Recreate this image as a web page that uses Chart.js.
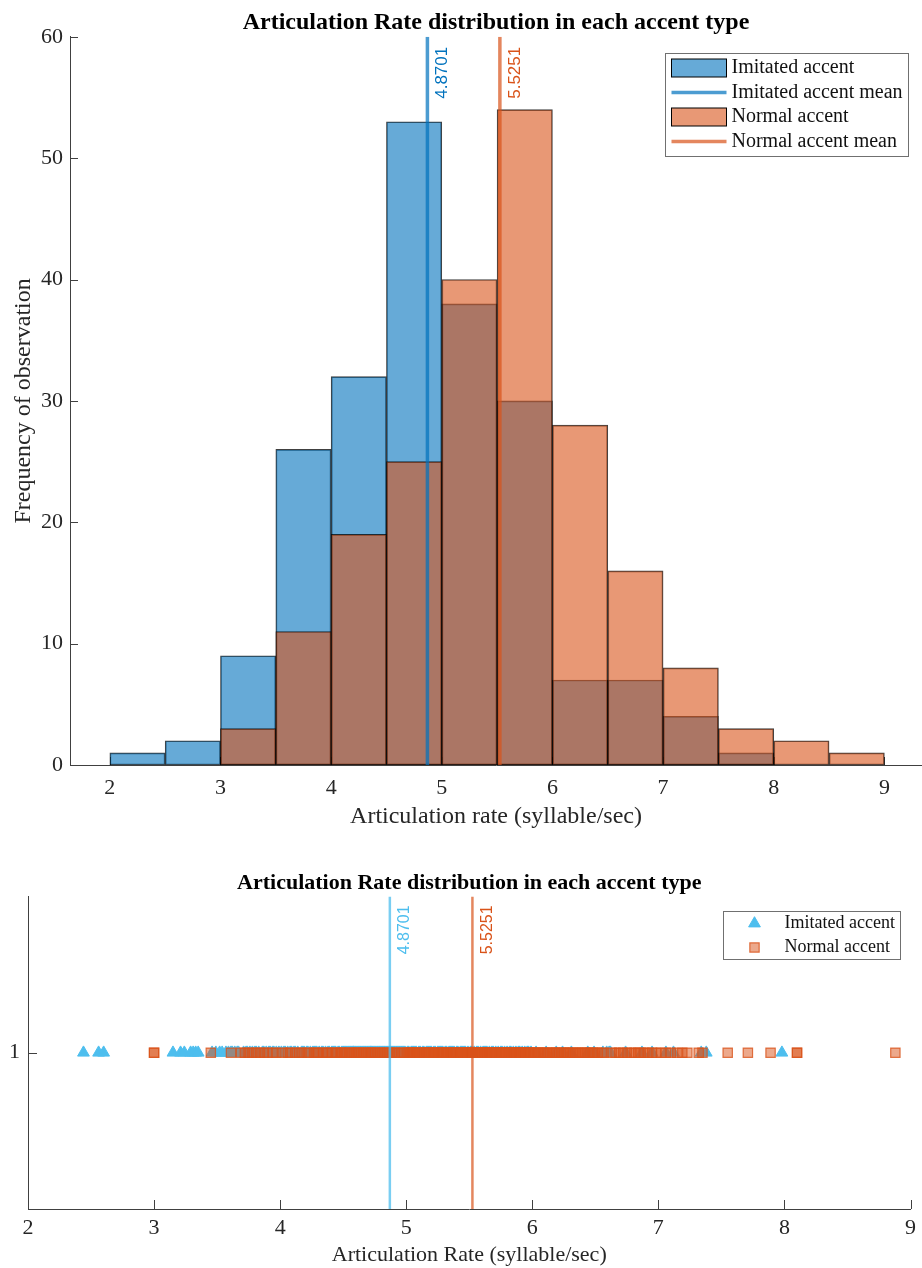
<!DOCTYPE html>
<html>
<head>
<meta charset="utf-8">
<title>Articulation Rate distribution in each accent type</title>
<script src="https://cdn.jsdelivr.net/npm/chart.js@4.4.1/dist/chart.umd.min.js"></script>
<style>
  html, body { margin: 0; padding: 0; background: #fff; }
  body { width: 922px; height: 1268px; position: relative; overflow: hidden; }
  #histChart { position: absolute; left: 0; top: 0; }
  #stripChart { position: absolute; left: 0; top: 845px; }
</style>
</head>
<body>
<canvas id="histChart" width="922" height="835"></canvas>
<canvas id="stripChart" width="922" height="423"></canvas>
<script>
// Histogram bins (width 0.5) and counts
const binEdges = [2, 2.5, 3, 3.5, 4, 4.5, 5, 5.5, 6, 6.5, 7, 7.5, 8, 8.5, 9];
const imitatedCounts = [1, 2, 9, 26, 32, 53, 38, 30, 7, 7, 4, 1, 0, 0];
const normalCounts = [0, 0, 3, 11, 19, 25, 40, 54, 28, 16, 8, 3, 2, 1];

// Group means (shown as vertical lines in both panels)
const imitatedMean = 4.8701;
const normalMean = 5.5251;

// Tick labels
const histXTicks = [2, 3, 4, 5, 6, 7, 8, 9];
const histYTicks = [0, 10, 20, 30, 40, 50, 60];
const stripXTicks = [2, 3, 4, 5, 6, 7, 8, 9];
const stripYTicks = [1];

// Individual articulation rates (syllable/sec), estimated from the strip plot
const imitatedRates = [
  2.44, 2.56, 2.60,
  3.15, 3.21, 3.24, 3.29, 3.31, 3.33, 3.35, 3.46, 3.49,
  3.52, 3.54, 3.57, 3.59, 3.61, 3.62, 3.64, 3.66, 3.67, 3.71, 3.73, 3.74, 3.76,
  3.78, 3.80, 3.81, 3.83, 3.86, 3.87, 3.89, 3.91, 3.92, 3.94, 3.95, 3.97, 3.99,
  4.01, 4.03, 4.04, 4.06, 4.08, 4.09, 4.11, 4.12, 4.14, 4.17, 4.18, 4.19, 4.21,
  4.22, 4.24, 4.26, 4.27, 4.28, 4.29, 4.31, 4.33, 4.34, 4.36, 4.38, 4.39, 4.41,
  4.42, 4.43, 4.44, 4.46, 4.47, 4.49,
  4.50, 4.51, 4.52, 4.53, 4.54, 4.55, 4.56, 4.57, 4.58, 4.58, 4.59, 4.60, 4.61,
  4.62, 4.63, 4.64, 4.65, 4.66, 4.67, 4.68, 4.69, 4.70, 4.71, 4.72, 4.72, 4.73,
  4.74, 4.75, 4.76, 4.77, 4.78, 4.79, 4.80, 4.81, 4.82, 4.83, 4.84, 4.85, 4.86,
  4.87, 4.87, 4.88, 4.89, 4.90, 4.91, 4.92, 4.93, 4.94, 4.95, 4.96, 4.97, 4.98, 4.99,
  5.01, 5.02, 5.04, 5.05, 5.06, 5.07, 5.08, 5.10, 5.11, 5.13, 5.14, 5.16, 5.17,
  5.18, 5.19, 5.20, 5.22, 5.23, 5.25, 5.26, 5.27, 5.28, 5.29, 5.31, 5.32, 5.34,
  5.35, 5.36, 5.37, 5.38, 5.40, 5.41, 5.43, 5.44, 5.45, 5.46, 5.47, 5.49,
  5.51, 5.52, 5.54, 5.56, 5.57, 5.59, 5.61, 5.62, 5.63, 5.64, 5.66, 5.68, 5.69,
  5.71, 5.73, 5.75, 5.76, 5.78, 5.80, 5.82, 5.83, 5.85, 5.87, 5.89, 5.90, 5.92,
  5.94, 5.96, 5.97, 5.99,
  6.03, 6.11, 6.19, 6.24, 6.31, 6.44, 6.49,
  6.56, 6.59, 6.61, 6.62, 6.74, 6.87, 6.95,
  7.06, 7.12, 7.34, 7.38,
  7.98
];
const normalRates = [
  3.00, 3.00, 3.45,
  3.61, 3.69, 3.72, 3.75, 3.78, 3.81, 3.84, 3.87, 3.90, 3.94, 3.97,
  4.02, 4.06, 4.08, 4.12, 4.15, 4.17, 4.21, 4.23, 4.27, 4.29, 4.30, 4.34, 4.37,
  4.38, 4.41, 4.44, 4.45, 4.48, 4.49,
  4.51, 4.53, 4.55, 4.57, 4.59, 4.61, 4.62, 4.64, 4.66, 4.68, 4.70, 4.72, 4.73,
  4.75, 4.77, 4.79, 4.81, 4.83, 4.85, 4.87, 4.89, 4.91, 4.93, 4.96, 4.98,
  5.01, 5.02, 5.03, 5.04, 5.05, 5.06, 5.08, 5.09, 5.11, 5.12, 5.14, 5.15, 5.16,
  5.17, 5.18, 5.19, 5.21, 5.22, 5.23, 5.25, 5.26, 5.27, 5.28, 5.29, 5.30, 5.32,
  5.33, 5.35, 5.36, 5.37, 5.38, 5.39, 5.40, 5.42, 5.43, 5.44, 5.46, 5.47, 5.48, 5.49,
  5.50, 5.51, 5.52, 5.53, 5.53, 5.54, 5.55, 5.56, 5.57, 5.58, 5.59, 5.60, 5.61,
  5.62, 5.63, 5.64, 5.65, 5.66, 5.66, 5.67, 5.68, 5.69, 5.70, 5.71, 5.72, 5.73,
  5.74, 5.75, 5.76, 5.77, 5.78, 5.78, 5.79, 5.80, 5.81, 5.82, 5.83, 5.84, 5.85,
  5.86, 5.87, 5.88, 5.89, 5.90, 5.91, 5.91, 5.92, 5.93, 5.94, 5.95, 5.96, 5.97,
  5.98, 5.99,
  6.01, 6.02, 6.04, 6.05, 6.07, 6.09, 6.10, 6.12, 6.14, 6.16, 6.18, 6.19, 6.21,
  6.23, 6.25, 6.27, 6.28, 6.30, 6.32, 6.34, 6.36, 6.38, 6.40, 6.42, 6.44, 6.46,
  6.48, 6.49,
  6.52, 6.55, 6.57, 6.63, 6.66, 6.69, 6.72, 6.75, 6.78, 6.81, 6.84, 6.86, 6.89,
  6.92, 6.95, 6.98,
  7.02, 7.06, 7.10, 7.15, 7.19, 7.23, 7.32, 7.35,
  7.55, 7.71, 7.89,
  8.10, 8.10,
  8.88
];

const SERIF = '"Liberation Serif", "Times New Roman", Times, serif';
const SANS = '"Liberation Sans", Arial, Helvetica, sans-serif';
const AXIS = '#404040';
const TEXT = '#262626';

Chart.defaults.font.family = SERIF;
Chart.defaults.color = TEXT;

const toBars = counts => counts
  .map((c, i) => ({ x: (binEdges[i] + binEdges[i + 1]) / 2, y: c }))
  .filter(p => p.y > 0);
const vline = (v, y0, y1) => [{ x: v, y: y0 }, { x: v, y: y1 }];
const fixTicks = values => scale => { scale.ticks = values.map(v => ({ value: v })); };

// MATLAB style tick marks pointing into the axes
const insideTicks = {
  id: 'insideTicks',
  beforeDatasetsDraw(chart, args, opts) {
    const { ctx, chartArea: a, scales: { x, y } } = chart;
    ctx.save();
    ctx.strokeStyle = AXIS;
    ctx.lineWidth = 1;
    ctx.beginPath();
    x.ticks.forEach(t => {
      const px = Math.round(x.getPixelForValue(t.value)) + 0.5;
      ctx.moveTo(px, a.bottom);
      ctx.lineTo(px, a.bottom - opts.length);
    });
    y.ticks.forEach(t => {
      const py = Math.round(y.getPixelForValue(t.value)) + 0.5;
      ctx.moveTo(a.left, py);
      ctx.lineTo(a.left + opts.length, py);
    });
    ctx.stroke();
    ctx.restore();
  }
};

// rotated value labels next to the mean lines
const meanLabels = {
  id: 'meanLabels',
  afterDatasetsDraw(chart, args, opts) {
    const { ctx, chartArea: a, scales: { x } } = chart;
    chart.data.datasets.forEach(ds => {
      if (!ds.meanLabel) return;
      const value = ds.data[0].x;
      ctx.save();
      ctx.translate(x.getPixelForValue(value) + opts.dx, a.top + opts.dy);
      ctx.rotate(-Math.PI / 2);
      ctx.font = `${opts.size}px ${SANS}`;
      ctx.fillStyle = ds.labelColor;
      ctx.textAlign = 'right';
      ctx.textBaseline = 'middle';
      ctx.fillText(value.toFixed(4), 0, 0);
      ctx.restore();
    });
  }
};

function drawMarker(ctx, ds, x, y) {
  const r = ds.pointRadius;
  ctx.fillStyle = ds.backgroundColor;
  ctx.strokeStyle = ds.borderColor;
  ctx.lineWidth = ds.borderWidth;
  ctx.beginPath();
  if (ds.pointStyle === 'triangle') {
    for (let k = 0; k < 3; k++) {
      const rad = k * 2 * Math.PI / 3;
      ctx[k ? 'lineTo' : 'moveTo'](x + Math.sin(rad) * r, y - Math.cos(rad) * r);
    }
    ctx.closePath();
  } else {
    const s = r * Math.SQRT1_2;
    ctx.rect(x - s, y - s, 2 * s, 2 * s);
  }
  ctx.fill();
  if (ds.borderWidth) ctx.stroke();
}

// boxed legend in the upper right corner of the axes
const boxLegend = {
  id: 'boxLegend',
  afterDraw(chart, args, o) {
    const { ctx, chartArea: a } = chart;
    const items = chart.data.datasets.filter(ds => ds.legendKind);
    ctx.save();
    ctx.font = `${o.size}px ${SERIF}`;
    const textW = Math.max(...items.map(ds => ctx.measureText(ds.label).width));
    const w = Math.round(o.textX + textW + o.padRight);
    const h = Math.round(o.rowTop * 2 + (items.length - 1) * o.rowGap);
    const left = Math.round(a.right - o.right - w) + 0.5;
    const top = Math.round(a.top + o.top) + 0.5;
    ctx.fillStyle = '#fff';
    ctx.fillRect(left, top, w, h);
    ctx.strokeStyle = '#707070';
    ctx.lineWidth = 1;
    ctx.strokeRect(left, top, w, h);
    items.forEach((ds, i) => {
      const cy = top + o.rowTop + i * o.rowGap;
      const sx = left + o.swatchX;
      if (ds.legendKind === 'patch') {
        ctx.fillStyle = ds.backgroundColor;
        ctx.fillRect(sx, cy - 9, o.swatchW, 18);
        ctx.strokeStyle = '#000';
        ctx.lineWidth = 1;
        ctx.strokeRect(sx, cy - 9, o.swatchW, 18);
      } else if (ds.legendKind === 'line') {
        ctx.strokeStyle = ds.borderColor;
        ctx.lineWidth = ds.borderWidth;
        ctx.beginPath();
        ctx.moveTo(sx, cy);
        ctx.lineTo(sx + o.swatchW, cy);
        ctx.stroke();
      } else {
        drawMarker(ctx, ds, left + o.markerX, cy);
      }
      ctx.fillStyle = '#111';
      ctx.textAlign = 'left';
      ctx.textBaseline = 'middle';
      ctx.fillText(ds.label, left + o.textX, cy);
    });
    ctx.restore();
  }
};

const hiddenDefaults = {
  legend: { display: false },
  tooltip: { enabled: false }
};

// ---------- top: overlaid histograms ----------
new Chart(document.getElementById('histChart'), {
  type: 'bar',
  data: {
    datasets: [
      {
        label: 'Imitated accent',
        data: toBars(imitatedCounts),
        backgroundColor: 'rgba(0, 114, 189, 0.6)',
        borderColor: 'rgba(0, 0, 0, 0.75)',
        borderWidth: 1,
        borderSkipped: false,
        grouped: false,
        barPercentage: 1,
        categoryPercentage: 1,
        order: 2,
        legendKind: 'patch'
      },
      {
        type: 'line',
        label: 'Imitated accent mean',
        data: vline(imitatedMean, 0, 60),
        borderColor: 'rgba(0, 114, 189, 0.7)',
        borderWidth: 3.5,
        pointRadius: 0,
        order: 0,
        legendKind: 'line',
        meanLabel: true,
        labelColor: 'rgb(0, 114, 189)'
      },
      {
        label: 'Normal accent',
        data: toBars(normalCounts),
        backgroundColor: 'rgba(217, 83, 25, 0.6)',
        borderColor: 'rgba(0, 0, 0, 0.75)',
        borderWidth: 1,
        borderSkipped: false,
        grouped: false,
        barPercentage: 1,
        categoryPercentage: 1,
        order: 1,
        legendKind: 'patch'
      },
      {
        type: 'line',
        label: 'Normal accent mean',
        data: vline(normalMean, 0, 60),
        borderColor: 'rgba(217, 83, 25, 0.7)',
        borderWidth: 3.5,
        pointRadius: 0,
        order: 0,
        legendKind: 'line',
        meanLabel: true,
        labelColor: 'rgb(217, 83, 25)'
      }
    ]
  },
  options: {
    responsive: false,
    animation: false,
    events: [],
    layout: { padding: { left: 0, right: 0, top: 0, bottom: 0 } },
    scales: {
      x: {
        type: 'linear',
        min: 1.64,
        max: 9.34,
        offset: false,
        grid: { display: false, drawTicks: false },
        border: { display: true, color: AXIS },
        ticks: { font: { size: 22 }, color: TEXT, padding: 10 },
        afterBuildTicks: fixTicks(histXTicks),
        afterFit: s => { s.height = 70; },
        title: {
          display: true,
          text: 'Articulation rate (syllable/sec)',
          font: { size: 24 },
          color: TEXT,
          padding: { top: 0, bottom: 4 }
        }
      },
      y: {
        type: 'linear',
        min: 0,
        max: 60,
        grid: { display: false, drawTicks: false },
        border: { display: true, color: AXIS },
        ticks: { font: { size: 22 }, color: TEXT, padding: 7 },
        afterBuildTicks: fixTicks(histYTicks),
        afterFit: s => { s.width = 70; },
        title: {
          display: true,
          text: 'Frequency of observation',
          font: { size: 24 },
          color: TEXT,
          padding: { top: 9, bottom: 0 }
        }
      }
    },
    plugins: {
      ...hiddenDefaults,
      title: {
        display: true,
        text: 'Articulation Rate distribution in each accent type',
        fullSize: false,
        font: { size: 24, weight: 'bold' },
        color: '#000',
        padding: { top: 8, bottom: 0 }
      },
      insideTicks: { length: 8 },
      meanLabels: { dx: 15, dy: 10, size: 17 },
      boxLegend: { size: 20, right: 14, top: 16, rowTop: 14.5, rowGap: 24.5, swatchX: 6, swatchW: 55, textX: 66, padRight: 6 }
    }
  },
  plugins: [insideTicks, meanLabels, boxLegend]
});

// ---------- bottom: strip plot of individual rates ----------
new Chart(document.getElementById('stripChart'), {
  type: 'scatter',
  data: {
    datasets: [
      {
        label: 'Imitated accent',
        data: imitatedRates.map(v => ({ x: v, y: 1 })),
        pointStyle: 'triangle',
        pointRadius: 6.8,
        backgroundColor: 'rgb(77, 190, 238)',
        borderColor: 'rgb(77, 190, 238)',
        borderWidth: 1,
        order: 2,
        legendKind: 'marker'
      },
      {
        label: 'Normal accent',
        data: normalRates.map(v => ({ x: v, y: 1 })),
        pointStyle: 'rect',
        pointRadius: 6.6,
        backgroundColor: 'rgba(217, 83, 25, 0.5)',
        borderColor: 'rgba(217, 83, 25, 0.8)',
        borderWidth: 1.2,
        order: 1,
        legendKind: 'marker'
      },
      {
        type: 'line',
        label: 'Imitated accent mean',
        data: vline(imitatedMean, 0.5, 1.5),
        borderColor: 'rgba(77, 190, 238, 0.75)',
        borderWidth: 2.5,
        pointRadius: 0,
        order: 0,
        meanLabel: true,
        labelColor: 'rgb(77, 190, 238)'
      },
      {
        type: 'line',
        label: 'Normal accent mean',
        data: vline(normalMean, 0.5, 1.5),
        borderColor: 'rgba(217, 83, 25, 0.7)',
        borderWidth: 2.5,
        pointRadius: 0,
        order: 0,
        meanLabel: true,
        labelColor: 'rgb(217, 83, 25)'
      }
    ]
  },
  options: {
    responsive: false,
    animation: false,
    events: [],
    layout: { padding: { left: 0, right: 5, top: 0, bottom: 0 } },
    scales: {
      x: {
        type: 'linear',
        min: 2,
        max: 9,
        grid: { display: false, drawTicks: false },
        border: { display: true, color: AXIS },
        ticks: { font: { size: 22 }, color: TEXT, padding: 6 },
        afterBuildTicks: fixTicks(stripXTicks),
        afterFit: s => { s.height = 59; },
        title: {
          display: true,
          text: 'Articulation Rate (syllable/sec)',
          font: { size: 22 },
          color: TEXT,
          padding: { top: 0, bottom: 0 }
        }
      },
      y: {
        type: 'linear',
        min: 0.5,
        max: 1.5,
        grid: { display: false, drawTicks: false },
        border: { display: true, color: AXIS },
        ticks: { font: { size: 22 }, color: TEXT, padding: 8 },
        afterBuildTicks: fixTicks(stripYTicks),
        afterFit: s => { s.width = 28; }
      }
    },
    plugins: {
      ...hiddenDefaults,
      title: {
        display: true,
        text: 'Articulation Rate distribution in each accent type',
        fullSize: false,
        font: { size: 22, weight: 'bold' },
        color: '#000',
        padding: { top: 25, bottom: 0 }
      },
      insideTicks: { length: 9 },
      meanLabels: { dx: 15, dy: 9, size: 16 },
      boxLegend: { size: 18, right: 11, top: 15, rowTop: 12, rowGap: 24, markerX: 31, textX: 61, padRight: 6 }
    }
  },
  plugins: [insideTicks, meanLabels, boxLegend]
});
</script>
</body>
</html>
